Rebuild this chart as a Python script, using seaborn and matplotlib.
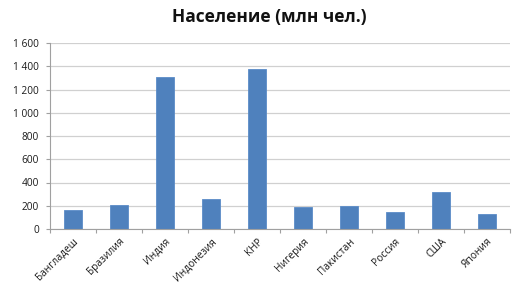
import matplotlib
matplotlib.use("Agg")
import matplotlib.pyplot as plt
import seaborn as sns
import pandas as pd
import numpy as np

countries = ["Бангладеш", "Бразилия", "Индия", "Индонезия", "КНР",
             "Нигерия", "Пакистан", "Россия", "США", "Япония"]
population = [162, 207, 1305, 258, 1379, 186, 197, 146, 321, 127]
yticks = [0, 200, 400, 600, 800, 1000, 1200, 1400, 1600]
yticklabels = ["0", "200", "400", "600", "800", "1 000", "1 200", "1 400", "1 600"]

df = pd.DataFrame({"country": countries, "pop": population})

sns.set_theme(style="white")
plt.rcParams['font.family'] = ['Open Sans', 'DejaVu Sans']

fig = plt.figure(figsize=(5.21, 2.92), dpi=100)
ax = fig.add_axes([50/521, 1-229/292, 460/521, 186/292])

sns.barplot(data=df, x="country", y="pop", ax=ax, color="#4F81BD",
            width=0.4, saturation=1, edgecolor="#5B8CC8", linewidth=0.6)

ax.set_ylim(0, 1600)
ax.set_xlim(-0.5, len(countries) - 0.5)
ax.set_yticks(yticks)
ax.set_yticklabels(yticklabels, fontsize=7.3, color="#1a1a1a")
ax.yaxis.grid(True, color="#D0D0D0", linewidth=0.9)
ax.set_axisbelow(True)
ax.set_xlabel("")
ax.set_ylabel("")
ax.set_xticks(range(len(countries)))
ax.set_xticklabels(countries, rotation=45, ha="right", rotation_mode="anchor",
                   fontsize=7.3, color="#1a1a1a")
ax.tick_params(axis="x", which="major", length=0, pad=5)
ax.set_xticks(np.arange(-0.5, len(countries), 1), minor=True)
ax.tick_params(axis="x", which="minor", length=3, color="#A0A0A0", width=0.8, direction="out", bottom=True)
ax.tick_params(axis="y", length=3, color="#A0A0A0", width=0.8, left=True, pad=5)

for s in ["top", "right"]:
    ax.spines[s].set_visible(False)
for s in ["left", "bottom"]:
    ax.spines[s].set_color("#A0A0A0")
    ax.spines[s].set_linewidth(0.8)

fig.text(269/521, 1-17/292, "Население (млн чел.)", ha="center", va="center",
         fontsize=12.5, fontweight="bold", color="#111111")

fig.savefig("out.png", dpi=100)
